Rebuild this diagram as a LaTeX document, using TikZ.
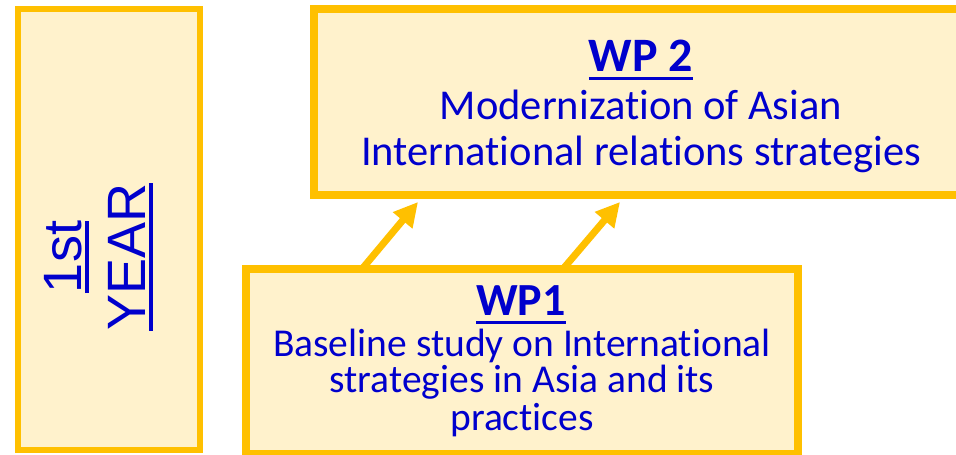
\documentclass[tikz,border=0pt]{standalone}
\usepackage{fontspec}
\setmainfont{Carlito}[Ligatures={NoCommon,NoRequired,NoContextual}]
\newfontfamily\arialfont{Liberation Sans}
\usetikzlibrary{arrows.meta,calc}
\definecolor{gold}{HTML}{FFC000}
\definecolor{cream}{HTML}{FFF2CC}
\definecolor{txtblue}{HTML}{0000CC}
\newsavebox\myulbox
\newcommand\ulbox[3]{\leavevmode\sbox\myulbox{#1}\rlap{\rule[-#2]{\wd\myulbox}{#3}}\usebox\myulbox}
\begin{document}
\begin{tikzpicture}[x=1pt,y=-1pt,
  box/.style={draw=gold, fill=cream, line width=8pt, rectangle, outer sep=0pt, inner sep=0pt},
  txtline/.style={text=txtblue, anchor=base, inner sep=0pt},
  headfont/.style={font=\fontsize{#1}{#1}\selectfont\bfseries},
  bodyfont/.style={font=\fontsize{#1}{#1}\selectfont},
  arr/.style={draw=gold, line width=7pt, -{Triangle[length=24pt,width=24pt]}}]
\useasboundingbox (0,0) rectangle (956,455);
% boxes
\node[box, line width=6pt, minimum width=182pt, minimum height=441pt] (year) at (109,229.5) {};
\node[box, minimum width=657pt, minimum height=186pt] (wp2) at (642,102) {};
\node[box, minimum width=552pt, minimum height=185pt] (wp1) at (522,361.5) {};
% year text
\node[txtline, rotate=90, font=\arialfont\fontsize{54}{54}\selectfont] (y1) at (81,257) {\ulbox{1st}{8pt}{4.5pt}};
\node[txtline, rotate=90, font=\arialfont\fontsize{54}{54}\selectfont] (y2) at (145,257) {\ulbox{YEAR}{8pt}{4.5pt}};
% WP2 text
\node[txtline, headfont=48] (wp2h) at (641,71) {\ulbox{WP 2}{9pt}{3pt}};
\node[txtline, bodyfont=42.5] (wp2a) at (641,119) {Modernization of Asian};
\node[txtline, bodyfont=42.5] (wp2b) at (641,165) {International relations strategies};
% WP1 text
\node[txtline, headfont=46] (wp1h) at (521,315) {\ulbox{WP1}{9pt}{3pt}};
\node[txtline, bodyfont=39.5] (wp1a) at (522,356) {Baseline study on International};
\node[txtline, bodyfont=39.5] (wp1b) at (522,392) {strategies in Asia and its};
\node[txtline, bodyfont=39.5] (wp1c) at (522,430) {practices};
% arrows
\draw[arr] ($(wp1.north west)+(116,0)$) -- ($(wp2.south west)+(104.5,7)$);
\draw[arr] ($(wp1.north west)+(317,0)$) -- ($(wp2.south west)+(306.5,7)$);
\end{tikzpicture}
\end{document}
